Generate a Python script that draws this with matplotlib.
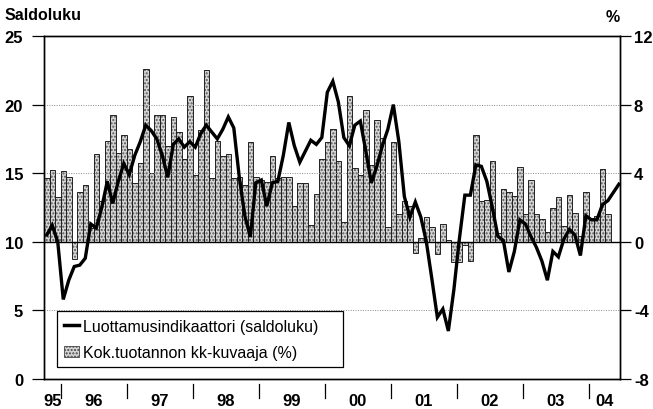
import numpy as np
import matplotlib
matplotlib.use("Agg")
import matplotlib.pyplot as plt
from matplotlib.patches import Patch
from matplotlib.lines import Line2D
import matplotlib.transforms as mtransforms

plt.rcParams['font.family'] = ['Liberation Sans', 'DejaVu Sans']
plt.rcParams['axes.unicode_minus'] = False

# monthly data, first month = Oct 1995
start_year, start_month = 1995, 10

# Kok.tuotannon kk-kuvaaja (%), Oct 1995 - Apr 2004
production = [3.7, 4.2, 2.6, 4.1, 3.8, -1.0, 2.9, 3.3, 0.8, 5.1,
              2.4, 5.85, 7.4, 5.2, 6.2, 5.4, 3.4, 4.6, 10.1, 4.0,
              7.4, 7.4, 5.6, 7.3, 6.4, 4.8, 8.5, 3.9, 6.5, 10.0,
              3.7, 5.9, 5.0, 5.1, 3.7, 3.8, 3.3, 5.8, 3.8, 3.6,
              3.5, 5.0, 3.7, 3.8, 3.8, 2.1, 3.4, 3.4, 1.0, 2.8,
              4.8, 5.8, 6.6, 4.7, 1.15, 8.5, 4.3, 3.9, 7.7, 4.5,
              7.1, 6.05, 0.85, 5.8, 1.6, 2.4, 2.1, -0.65, 0.2, 1.45,
              0.85, -0.7, 1.05, 0.1, -1.2, -1.2, -0.2, -1.1, 6.2, 2.35,
              2.45, 4.7, 0.5, 3.05, 2.9, 2.65, 4.35, 1.6, 3.6, 1.6,
              1.35, 0.6, 2.0, 2.6, 0.9, 2.7, 1.7, 0.35, 2.9, 1.4,
              1.5, 4.25, 1.6]

# Luottamusindikaattori (saldoluku), Oct 1995 - Jun 2004
confidence = [10.5, 11.2, 10.0, 5.8, 7.2, 8.2, 8.3, 8.8, 11.3, 11.0,
              12.5, 14.4, 12.8, 14.4, 15.7, 14.9, 16.3, 17.3, 18.5, 18.1,
              17.5, 16.3, 14.7, 17.1, 17.5, 16.9, 17.3, 16.9, 17.9, 18.5,
              18.0, 17.5, 18.2, 19.1, 18.3, 14.7, 11.9, 10.35, 14.3, 14.5,
              12.6, 14.3, 14.4, 16.3, 18.7, 17.0, 15.8, 16.6, 17.4, 17.1,
              17.6, 20.9, 21.7, 20.2, 17.6, 17.0, 18.5, 18.8, 16.6, 14.3,
              15.5, 17.0, 18.2, 20.0, 17.3, 13.3, 11.8, 12.9, 11.8, 10.0,
              7.3, 4.5, 5.1, 3.5, 6.5, 10.2, 13.4, 13.4, 15.6, 15.5,
              14.4, 12.5, 10.4, 10.1, 7.8, 9.3, 11.6, 11.3, 10.4, 9.6,
              8.6, 7.2, 9.3, 8.9, 10.2, 10.9, 10.5, 9.0, 11.9, 11.6,
              11.6, 12.7, 13.0, 13.6, 14.2]

years = list(range(1995, 2005))

x_bar = np.arange(len(production))
x_line = np.arange(len(confidence))
xmin, xmax = -0.5, 104.2

fig = plt.figure(figsize=(6.53, 4.10), dpi=100)
ax = fig.add_axes([44 / 653, 30 / 410, 576 / 653, 343 / 410])
ax2 = ax.twinx()
ax.set_zorder(ax2.get_zorder() + 1)
ax.patch.set_visible(False)

# bars: stipple fill, then outline
ax2.bar(x_bar, production, width=1.0, color='#d4d4d4', edgecolor='#555555',
        hatch='.....', linewidth=0, zorder=2)
ax2.bar(x_bar, production, width=1.0, facecolor='none', edgecolor='#222222',
        linewidth=0.7, zorder=3)

ax.plot(x_line, confidence, color='black', lw=2.4, solid_joinstyle='miter', zorder=5)

ax.set_xlim(xmin, xmax)
ax.set_ylim(0, 25)
ax2.set_ylim(-8, 12)
ax.set_yticks(range(0, 26, 5))
ax2.set_yticks(range(-8, 13, 4))

for v in [5, 15, 20]:
    ax.axhline(v, color='#8a8a8a', lw=0.7, ls=(0, (1, 1.5)), zorder=1)
ax2.axhline(0, color='black', lw=1.0, zorder=4)

ax.set_xticks([])
ax.tick_params(axis='y', direction='out', length=9, width=0.9, labelsize=12, pad=6)
ax2.tick_params(axis='y', direction='out', length=8, width=0.9, labelsize=12, pad=2)
for lab in ax.get_yticklabels() + ax2.get_yticklabels():
    lab.set_fontweight('bold')
for sp in ax.spines.values():
    sp.set_linewidth(1.0)
for sp in ax2.spines.values():
    sp.set_linewidth(1.0)

# year separators and labels below the axis
trans = mtransforms.blended_transform_factory(ax.transData, ax.transAxes)
bounds = [xmin]
for i in range(len(confidence) + 2):
    m = (start_month - 1 + i) % 12
    if m == 0 and i > 0:
        bounds.append(i - 0.5)
bounds.append(xmax)
bounds = [b for b in bounds if b <= xmax]
for b in bounds[1:-1]:
    ax.plot([b, b], [-0.015, -0.055], color='black', lw=0.9, transform=trans, clip_on=False)
for k, yr in enumerate(years):
    mid = (bounds[k] + bounds[k + 1]) / 2
    ax.text(mid, -0.064, f"{yr % 100:02d}", transform=trans, ha='center', va='center',
            fontsize=12, fontweight='bold')

fig.text(5 / 653, 1 - 15 / 410, 'Saldoluku', ha='left', va='center', fontsize=11.5, fontweight='bold')
fig.text(613 / 653, 1 - 18 / 410, '%', ha='center', va='center', fontsize=11.5, fontweight='bold')

handles = [Line2D([], [], color='black', lw=2.5),
           Patch(facecolor='#d4d4d4', edgecolor='#444444', hatch='.....', linewidth=0.6)]
labels = ['Luottamusindikaattori (saldoluku)', 'Kok.tuotannon kk-kuvaaja (%)']
leg = ax.legend(handles, labels, loc='lower left',
                bbox_to_anchor=(0.0226, 0.035, 0.4965, 0.166), mode='expand',
                frameon=True, fancybox=False, edgecolor='black', framealpha=1,
                fontsize=11.5, handlelength=0.9, handletextpad=0.3, borderpad=0.45,
                labelspacing=0.7, borderaxespad=0)
leg.get_frame().set_linewidth(0.9)
leg.set_zorder(10)

fig.savefig('out.png', dpi=100)
